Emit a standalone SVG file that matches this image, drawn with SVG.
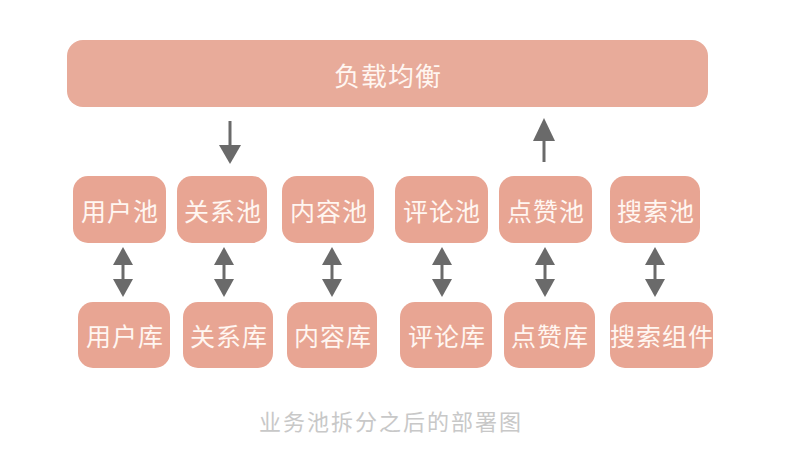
<svg xmlns="http://www.w3.org/2000/svg" width="787" height="459" viewBox="0 0 787 459">
<style>
.box{fill:#E8A593;}
.bar{fill:#E8AB9A;}
.lbl{font-family:"Noto Sans CJK SC","Noto Sans",sans-serif;fill:#FFF6F1;text-anchor:middle;dominant-baseline:central;font-size:25px;letter-spacing:1px;}
.big{font-size:26px;}
.cap{font-family:"Noto Sans CJK SC","Noto Sans",sans-serif;fill:#C8C8C8;text-anchor:middle;font-size:22px;letter-spacing:2px;}
.ln{stroke:#6A6A6A;stroke-width:3;fill:none;}
.hd{fill:#6A6A6A;}
</style>
<rect width="787" height="459" fill="#FFFFFF"/>
<g id="lb"><rect class="bar" x="67" y="40" width="641" height="67" rx="16"/><text class="lbl big" x="388" y="74">负载均衡</text></g>
<g id="p1"><rect class="box" x="73" y="176" width="93" height="67" rx="15"/><text class="lbl" x="120" y="210">用户池</text></g>
<g id="p2"><rect class="box" x="177" y="176" width="90" height="67" rx="15"/><text class="lbl" x="223" y="210">关系池</text></g>
<g id="p3"><rect class="box" x="282" y="176" width="92" height="67" rx="15"/><text class="lbl" x="329" y="210">内容池</text></g>
<g id="p4"><rect class="box" x="395" y="176" width="93" height="67" rx="15"/><text class="lbl" x="442" y="210">评论池</text></g>
<g id="p5"><rect class="box" x="499" y="176" width="93" height="67" rx="15"/><text class="lbl" x="546" y="210">点赞池</text></g>
<g id="p6"><rect class="box" x="610" y="176" width="90" height="67" rx="15"/><text class="lbl" x="656" y="210">搜索池</text></g>
<g id="d1"><rect class="box" x="78" y="302" width="92" height="66" rx="15"/><text class="lbl" x="125" y="335">用户库</text></g>
<g id="d2"><rect class="box" x="183" y="302" width="90" height="66" rx="15"/><text class="lbl" x="229" y="335">关系库</text></g>
<g id="d3"><rect class="box" x="287" y="302" width="90" height="66" rx="15"/><text class="lbl" x="333" y="335">内容库</text></g>
<g id="d4"><rect class="box" x="400" y="302" width="92" height="66" rx="15"/><text class="lbl" x="447" y="335">评论库</text></g>
<g id="d5"><rect class="box" x="504" y="302" width="91" height="66" rx="15"/><text class="lbl" x="550" y="335">点赞库</text></g>
<g id="d6"><rect class="box" x="610" y="302" width="103" height="66" rx="15"/><text class="lbl" x="662" y="335">搜索组件</text></g>
<g id="connectors">
<line class="ln" x1="230" y1="121" x2="230" y2="147"/><polygon class="hd" points="219,145 241,145 230,164"/>
<line class="ln" x1="544" y1="140" x2="544" y2="162"/><polygon class="hd" points="533,141 555,141 544,118"/>
<g id="bi">
<line class="ln" x1="123" y1="262" x2="123" y2="282"/><polygon class="hd" points="113,265 133,265 123,247"/><polygon class="hd" points="113,279 133,279 123,297"/>
<line class="ln" x1="224" y1="262" x2="224" y2="282"/><polygon class="hd" points="214,265 234,265 224,247"/><polygon class="hd" points="214,279 234,279 224,297"/>
<line class="ln" x1="332" y1="262" x2="332" y2="282"/><polygon class="hd" points="322,265 342,265 332,247"/><polygon class="hd" points="322,279 342,279 332,297"/>
<line class="ln" x1="442" y1="262" x2="442" y2="282"/><polygon class="hd" points="432,265 452,265 442,247"/><polygon class="hd" points="432,279 452,279 442,297"/>
<line class="ln" x1="545" y1="262" x2="545" y2="282"/><polygon class="hd" points="535,265 555,265 545,247"/><polygon class="hd" points="535,279 555,279 545,297"/>
<line class="ln" x1="655" y1="262" x2="655" y2="282"/><polygon class="hd" points="645,265 665,265 655,247"/><polygon class="hd" points="645,279 665,279 655,297"/>
</g>
</g>
<text class="cap" x="391" y="430">业务池拆分之后的部署图</text>
</svg>
